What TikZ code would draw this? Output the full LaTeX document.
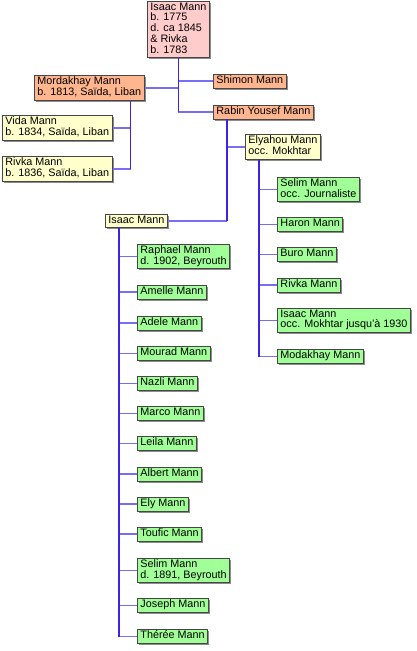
\documentclass[tikz,border=0pt]{standalone}
\usepackage{fontspec}
\setmainfont{Liberation Sans}
\usetikzlibrary{shadows}
\definecolor{rootbg}{RGB}{255,204,204}
\definecolor{elderbg}{RGB}{255,182,142}
\definecolor{parentbg}{RGB}{255,255,204}
\definecolor{childbg}{RGB}{160,255,150}
\definecolor{trunkblue}{RGB}{60,35,230}
\definecolor{branchblue}{RGB}{120,110,245}
\definecolor{boxedge}{RGB}{70,70,70}

\begin{document}
\begin{tikzpicture}[
        x=1pt, y=-1pt,
        person/.style={draw=boxedge, line width=0.9pt, anchor=west, align=left,
                       inner xsep=3pt, inner ysep=1.5pt,
                       font=\fontsize{10.8}{10.7}\selectfont,
                       execute at begin node=\strut, execute at end node=\strut,
                       drop shadow={shadow xshift=1.6pt, shadow yshift=-1.6pt,
                                    fill=black, opacity=0.45}},
        rootbox/.style={person, fill=rootbg},
        elderbox/.style={person, fill=elderbg},
        parentbox/.style={person, fill=parentbg},
        childbox/.style={person, fill=childbg},
        trunk/.style={line width=1.4pt, trunkblue},
        branch/.style={line width=1.3pt, branchblue},
    ]

    \useasboundingbox (0,0) rectangle (417,651);

    % ---------- first generation -----------------------------------------
    \node[rootbox] (isaacroot) at (147,29.5) {Isaac Mann\\b. 1775\\d. ca 1845\\\& Rivka\\b. 1783};

    % ---------- second generation ----------------------------------------
    \node[elderbox] (mordakhay) at ( 34, 88) {Mordakhay Mann\\b. 1813, Saïda, Liban};
    \node[elderbox] (shimon)    at (213, 81) {Shimon Mann};
    \node[elderbox] (rabin)     at (213,112) {Rabin Yousef Mann};

    % ---------- third generation -----------------------------------------
    \node[parentbox] (vida)     at (  2,128) {Vida Mann\\b. 1834, Saïda, Liban};
    \node[parentbox] (rivkaold) at (  2,169) {Rivka Mann\\b. 1836, Saïda, Liban};
    \node[parentbox] (elyahou)  at (245,147) {Elyahou Mann\\occ. Mokhtar};
    \node[parentbox] (isaacmid) at (105,221) {Isaac Mann};

    % ---------- children of Elyahou --------------------------------------
    \node[childbox] (selimocc)     at (277,189.5) {Selim Mann\\occ. Journaliste};
    \node[childbox] (haron)        at (277,224.5) {Haron Mann};
    \node[childbox] (buro)         at (277,254.5) {Buro Mann};
    \node[childbox] (rivkanew)     at (277,285)   {Rivka Mann};
    \node[childbox] (isaacmokhtar) at (277,320.5) {Isaac Mann\\occ. Mokhtar jusqu'à 1930};
    \node[childbox] (modakhay)     at (277,356.5) {Modakhay Mann};

    % ---------- children of Isaac ----------------------------------------
    \node[childbox] (raphael)   at (137,256.5) {Raphael Mann\\d. 1902, Beyrouth};
    \node[childbox] (amelle)    at (137,292)   {Amelle Mann};
    \node[childbox] (adele)     at (137,323)   {Adele Mann};
    \node[childbox] (mourad)    at (137,353.5) {Mourad Mann};
    \node[childbox] (nazli)     at (137,383.5) {Nazli Mann};
    \node[childbox] (marco)     at (137,413.5) {Marco Mann};
    \node[childbox] (leila)     at (137,443.5) {Leila Mann};
    \node[childbox] (albert)    at (137,474)   {Albert Mann};
    \node[childbox] (ely)       at (137,504)   {Ely Mann};
    \node[childbox] (toufic)    at (137,534)   {Toufic Mann};
    \node[childbox] (selimdied) at (137,570.5) {Selim Mann\\d. 1891, Beyrouth};
    \node[childbox] (joseph)    at (137,605.5) {Joseph Mann};
    \node[childbox] (theree)    at (137,636.5) {Thérée Mann};

    % ---------- trunk points ---------------------------------------------
    \coordinate (roottrunk)  at (isaacroot.south);
    \coordinate (mordtrunk)  at ([xshift=-14pt]mordakhay.south east);
    \coordinate (rabintrunk) at ([xshift=14pt]rabin.south west);
    \coordinate (elyatrunk)  at ([xshift=14pt]elyahou.south west);
    \coordinate (isaactrunk) at ([xshift=14pt]isaacmid.south west);

    % ---------- branches -------------------------------------------------
    \draw[branch] (mordakhay.east) -- (mordakhay.east -| roottrunk);
    \draw[branch] (shimon.west) -- (shimon.west -| roottrunk);
    \draw[branch] (rabin.west) -- (rabin.west -| roottrunk);

    \draw[branch] (vida.east) -- (vida.east -| mordtrunk);
    \draw[branch] (rivkaold.east) -- (rivkaold.east -| mordtrunk);

    \draw[branch] (elyahou.west) -- (elyahou.west -| rabintrunk);
    \draw[branch] (isaacmid.east) -- (isaacmid.east -| rabintrunk);

    \draw[branch] (selimocc.west) -- (selimocc.west -| elyatrunk);
    \draw[branch] (haron.west) -- (haron.west -| elyatrunk);
    \draw[branch] (buro.west) -- (buro.west -| elyatrunk);
    \draw[branch] (rivkanew.west) -- (rivkanew.west -| elyatrunk);
    \draw[branch] (isaacmokhtar.west) -- (isaacmokhtar.west -| elyatrunk);
    \draw[branch] (modakhay.west) -- (modakhay.west -| elyatrunk);

    \draw[branch] (raphael.west) -- (raphael.west -| isaactrunk);
    \draw[branch] (amelle.west) -- (amelle.west -| isaactrunk);
    \draw[branch] (adele.west) -- (adele.west -| isaactrunk);
    \draw[branch] (mourad.west) -- (mourad.west -| isaactrunk);
    \draw[branch] (nazli.west) -- (nazli.west -| isaactrunk);
    \draw[branch] (marco.west) -- (marco.west -| isaactrunk);
    \draw[branch] (leila.west) -- (leila.west -| isaactrunk);
    \draw[branch] (albert.west) -- (albert.west -| isaactrunk);
    \draw[branch] (ely.west) -- (ely.west -| isaactrunk);
    \draw[branch] (toufic.west) -- (toufic.west -| isaactrunk);
    \draw[branch] (selimdied.west) -- (selimdied.west -| isaactrunk);
    \draw[branch] (joseph.west) -- (joseph.west -| isaactrunk);
    \draw[branch] (theree.west) -- (theree.west -| isaactrunk);

    % ---------- trunks ---------------------------------------------------
    \draw[trunk] (roottrunk) -- (roottrunk |- rabin.west);
    \draw[trunk] (mordtrunk) -- (mordtrunk |- rivkaold.east);
    \draw[trunk] (rabintrunk) -- (rabintrunk |- isaacmid.east);
    \draw[trunk] (elyatrunk) -- (elyatrunk |- modakhay.west);
    \draw[trunk] (isaactrunk) -- (isaactrunk |- theree.west);

\end{tikzpicture}
\end{document}
